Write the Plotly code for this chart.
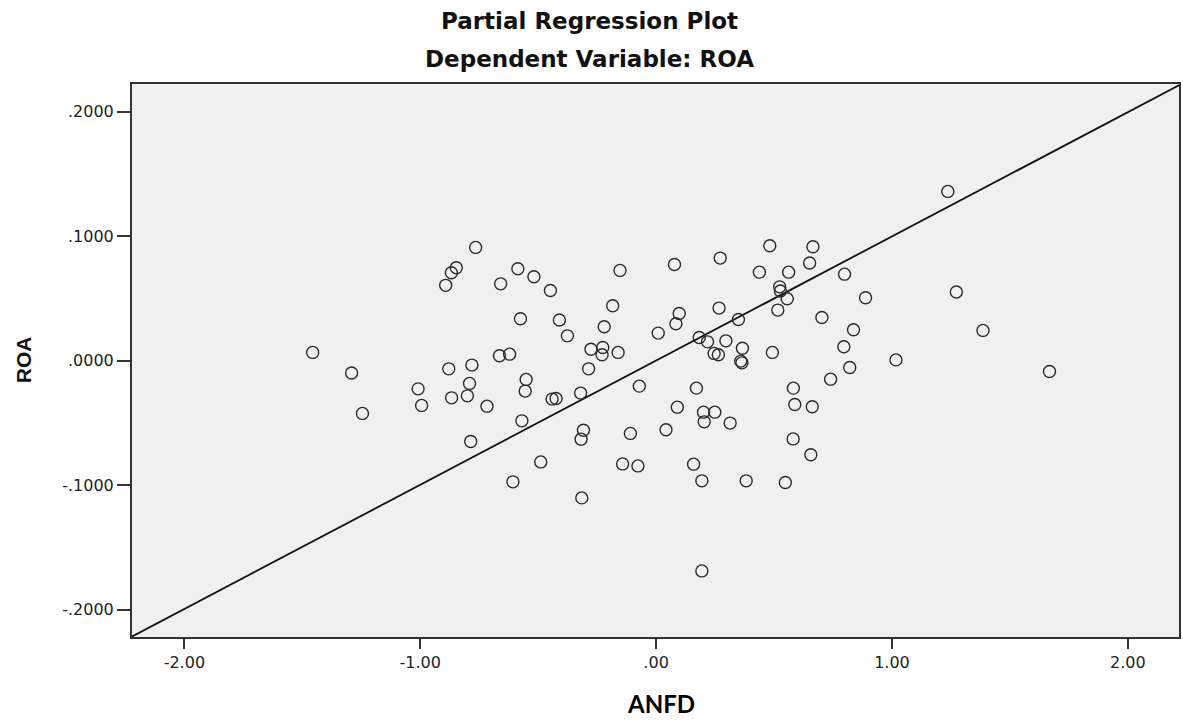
import plotly.graph_objects as go

# ---- data ----
anfd = [
    -0.765, -0.847, -0.868, -0.892, -0.586, -0.518, -0.659, -0.448, -0.575, -0.410,
    -0.376, -1.456, -1.291, -0.664, -0.621, -0.879, -0.781, -0.791, -0.551, -0.555,
    -1.009, -0.867, -0.800, -0.994, -0.717, -1.245, -0.441, -0.424, -0.320, -0.569,
    -0.786, -0.489, -0.607, -0.153, 0.078, 0.272, 0.482, 0.665, 0.651, 0.438,
    0.562, 0.799, 0.524, 0.527, 0.556, 0.888, -0.184, 0.098, 0.267, 0.516,
    0.703, 0.349, -0.220, 0.084, 0.009, 0.837, 0.183, 0.218, 0.296, -0.276,
    -0.226, -0.229, -0.161, 0.366, 0.246, 0.264, 0.359, 0.364, 0.493, 0.796,
    0.821, -0.286, -0.071, 0.171, 0.740, 0.582, 0.090, 0.588, 0.662, 0.201,
    0.249, 0.204, 0.314, -0.308, -0.318, -0.109, 0.042, 0.581, 0.656, -0.142,
    -0.077, 0.159, 0.194, 0.382, 0.548, -0.315, 0.194, 1.237, 1.273, 1.386,
    1.017, 1.668,
]
roa = [
    0.0910, 0.0746, 0.0706, 0.0605, 0.0738, 0.0674, 0.0617, 0.0564, 0.0336, 0.0326,
    0.0199, 0.0066, -0.0100, 0.0039, 0.0052, -0.0066, -0.0036, -0.0183, -0.0151, -0.0245,
    -0.0227, -0.0299, -0.0283, -0.0360, -0.0366, -0.0424, -0.0309, -0.0304, -0.0261, -0.0484,
    -0.0650, -0.0814, -0.0974, 0.0725, 0.0773, 0.0824, 0.0923, 0.0915, 0.0784, 0.0711,
    0.0711, 0.0695, 0.0593, 0.0559, 0.0497, 0.0505, 0.0441, 0.0379, 0.0422, 0.0406,
    0.0347, 0.0331, 0.0272, 0.0296, 0.0221, 0.0248, 0.0186, 0.0151, 0.0159, 0.0092,
    0.0106, 0.0047, 0.0066, 0.0100, 0.0058, 0.0047, -0.0004, -0.0018, 0.0066, 0.0111,
    -0.0055, -0.0066, -0.0205, -0.0221, -0.0149, -0.0221, -0.0374, -0.0352, -0.0371, -0.0414,
    -0.0414, -0.0492, -0.0502, -0.0559, -0.0631, -0.0585, -0.0556, -0.0629, -0.0757, -0.0830,
    -0.0846, -0.0832, -0.0966, -0.0966, -0.0979, -0.1103, -0.1690, 0.1360, 0.0551, 0.0243,
    0.0006, -0.0087,
]

fit_slope = 0.0998
fit_intercept = 0.0

x_tick_vals = [-2, -1, 0, 1, 2]
x_tick_text = ["-2.00", "-1.00", ".00", "1.00", "2.00"]
y_tick_vals = [-0.2, -0.1, 0.0, 0.1, 0.2]
y_tick_text = ["-.2000", "-.1000", ".0000", ".1000", ".2000"]

x_range = [-2.222, 2.217]
y_range = [-0.2221, 0.2223]

title_line1 = "Partial Regression Plot"
title_line2 = "Dependent Variable: ROA"
x_title = "ANFD"
y_title = "ROA"

# ---- figure ----
fig = go.Figure()

line_x = [x_range[0] - 0.1, x_range[1] + 0.1]
line_y = [fit_intercept + fit_slope * v for v in line_x]
fig.add_trace(go.Scatter(
    x=line_x, y=line_y, mode="lines",
    line=dict(color="#111111", width=1.8),
    hoverinfo="skip", showlegend=False,
))

fig.add_trace(go.Scatter(
    x=anfd, y=roa, mode="markers",
    marker=dict(symbol="circle-open", size=12, color="#2a2a2a",
                line=dict(width=1.4, color="#2a2a2a")),
    showlegend=False, cliponaxis=True,
))

tick_font = dict(family="DejaVu Sans", size=16, color="#222222")
axis_common = dict(
    showgrid=False, zeroline=False, showline=True, mirror=True,
    linecolor="#333333", linewidth=2, ticks="outside",
    tickcolor="#333333", tickwidth=2, tickfont=tick_font,
)

fig.update_xaxes(range=x_range, tickvals=x_tick_vals, ticktext=x_tick_text,
                 ticklen=10, **axis_common)
fig.update_yaxes(range=y_range, tickvals=y_tick_vals, ticktext=y_tick_text,
                 ticklen=13, **axis_common)

L, R, T, B = 132, 2, 84, 83
W, H = 1183, 720
pw, ph = W - L - R, H - T - B

def px_to_paper(px, py):
    return (px - L) / pw, (H - B - py) / ph

ann = []
x1, y1 = px_to_paper(590, 21)
ann.append(dict(x=x1, y=y1, text="<b>%s</b>" % title_line1, showarrow=False,
                xref="paper", yref="paper", xanchor="center", yanchor="middle",
                font=dict(family="DejaVu Sans", size=23, color="#111111")))
x2, y2 = px_to_paper(590, 59)
ann.append(dict(x=x2, y=y2, text="<b>%s</b>" % title_line2, showarrow=False,
                xref="paper", yref="paper", xanchor="center", yanchor="middle",
                font=dict(family="DejaVu Sans", size=23, color="#111111")))
x3, y3 = px_to_paper(662, 704)
ann.append(dict(x=x3, y=y3, text="<b>%s</b>" % x_title, showarrow=False,
                xref="paper", yref="paper", xanchor="center", yanchor="middle",
                font=dict(family="Lato", size=24, color="#000000")))
x4, y4 = px_to_paper(23, 360)
ann.append(dict(x=x4, y=y4, text="<b>%s</b>" % y_title, showarrow=False,
                xref="paper", yref="paper", xanchor="center", yanchor="middle",
                textangle=-90,
                font=dict(family="Liberation Sans", size=21, color="#111111")))

fig.update_layout(
    width=W, height=H,
    margin=dict(l=L, r=R, t=T, b=B),
    paper_bgcolor="white", plot_bgcolor="#f0f0f0",
    annotations=ann,
)

fig.write_html("out.html")
